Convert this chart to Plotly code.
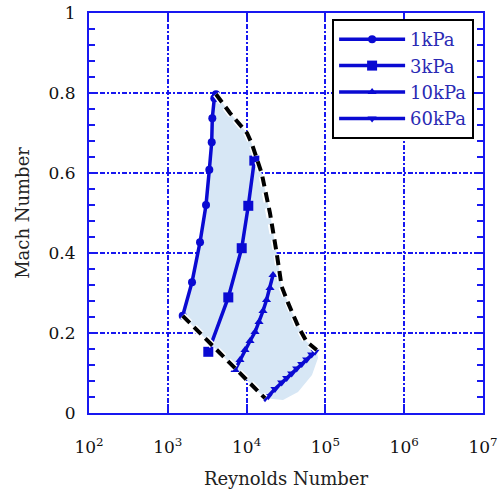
import plotly.graph_objects as go

# ---- data ----
re_1k = [1546, 2029, 2564, 3055, 3363, 3608, 3672, 3894, 4090]
ma_1k = [0.243, 0.327, 0.427, 0.520, 0.608, 0.677, 0.737, 0.787, 0.797]

re_3k = [3266, 5858, 8670, 10510, 12530]
ma_3k = [0.153, 0.289, 0.412, 0.518, 0.631]

re_10k = [7130, 8240, 9550, 11050, 12790, 14370, 16150, 17900, 19830, 21640]
ma_10k = [0.1075, 0.1325, 0.1575, 0.180, 0.2025, 0.2275, 0.255, 0.2825, 0.3125, 0.345]

re_60k = [17130, 18840, 22900, 27870, 32260, 37330, 43230, 50040, 57900, 66990, 73800]
ma_60k = [0.037, 0.042, 0.060, 0.076, 0.0875, 0.099, 0.111, 0.1225, 0.134, 0.146, 0.153]

# dashed envelope (upper / right edge)
re_env_up = [4090, 6150, 10120, 11620, 15560, 19830, 24110, 27880, 33810, 45290, 57900, 77600]
ma_env_up = [0.797, 0.750, 0.700, 0.674, 0.599, 0.499, 0.399, 0.316, 0.274, 0.216, 0.178, 0.1575]
# dashed envelope (lower edge)
re_env_lo = [1546, 17130]
ma_env_lo = [0.243, 0.037]
# shaded region outline below the 60 kPa curve
re_bulge = [80600, 67600, 44900, 28970]
ma_bulge = [0.1375, 0.095, 0.0525, 0.0325]

series = [
    ("1kPa", re_1k, ma_1k, "circle", 8),
    ("3kPa", re_3k, ma_3k, "square", 10),
    ("10kPa", re_10k, ma_10k, "triangle-up", 8),
    ("60kPa", re_60k, ma_60k, "triangle-down", 8),
]

x_tickvals = [1e2, 1e3, 1e4, 1e5, 1e6, 1e7]
x_ticktext = ["10<sup>2</sup>", "10<sup>3</sup>", "10<sup>4</sup>",
              "10<sup>5</sup>", "10<sup>6</sup>", "10<sup>7</sup>"]

BLUE = "#0a0ad2"
GRID = "#1818f0"
FONT = "DejaVu Serif"
DASH = "10px,6px"

fig = go.Figure()

# shaded region
fill_x = re_1k + re_env_up + re_bulge + re_env_lo[::-1]
fill_y = ma_1k + ma_env_up + ma_bulge + ma_env_lo[::-1]
fig.add_trace(go.Scatter(x=fill_x, y=fill_y, mode="lines", fill="toself",
                         fillcolor="#d7e7f5", line=dict(width=0, color="#d7e7f5"),
                         showlegend=False, hoverinfo="skip"))

for name, xs, ys, sym, size in series:
    fig.add_trace(go.Scatter(x=xs, y=ys, mode="lines+markers", name=name,
                             line=dict(color=BLUE, width=3.5),
                             marker=dict(symbol=sym, size=size, color=BLUE)))

for xs, ys in [(re_env_up, ma_env_up), (re_env_lo, ma_env_lo)]:
    fig.add_trace(go.Scatter(x=xs, y=ys, mode="lines", showlegend=False,
                             line=dict(color="white", width=7, dash=DASH),
                             hoverinfo="skip"))
    fig.add_trace(go.Scatter(x=xs, y=ys, mode="lines", showlegend=False,
                             line=dict(color="black", width=4, dash=DASH),
                             hoverinfo="skip"))

axis_common = dict(
    showline=True, linecolor=GRID, linewidth=2, mirror="ticks",
    ticks="inside", tickcolor=GRID, tickwidth=2,
    showgrid=True, gridcolor=GRID, gridwidth=1.5, griddash="5px,2px,2px,2px",
    zeroline=False, automargin=False,
    tickfont=dict(family=FONT, size=17, color="#111111"),
)

fig.update_xaxes(type="log", range=[2, 7], tickvals=x_tickvals, ticktext=x_ticktext,
                 ticklen=9, ticklabelstandoff=18,
                 title=dict(text="Reynolds Number", font=dict(family=FONT, size=18, color="#222222"),
                            standoff=16),
                 **axis_common)
fig.update_yaxes(range=[0, 1], dtick=0.2, ticklen=8, ticklabelstandoff=8,
                 minor=dict(dtick=0.04, ticks="inside", ticklen=6, tickcolor=GRID,
                            tickwidth=2, showgrid=False),
                 title=dict(text="Mach Number", font=dict(family=FONT, size=18, color="#222222"),
                            standoff=14),
                 **axis_common)

fig.update_layout(
    width=499, height=489,
    margin=dict(l=89, r=16, t=13, b=76),
    paper_bgcolor="white", plot_bgcolor="white",
    legend=dict(x=0.617, y=0.985, xanchor="left", yanchor="top",
                bgcolor="white", bordercolor="black", borderwidth=2,
                font=dict(family=FONT, size=18, color="#2a2ab4"),
                itemwidth=66, tracegroupgap=0),
)

fig.write_html("out.html")
